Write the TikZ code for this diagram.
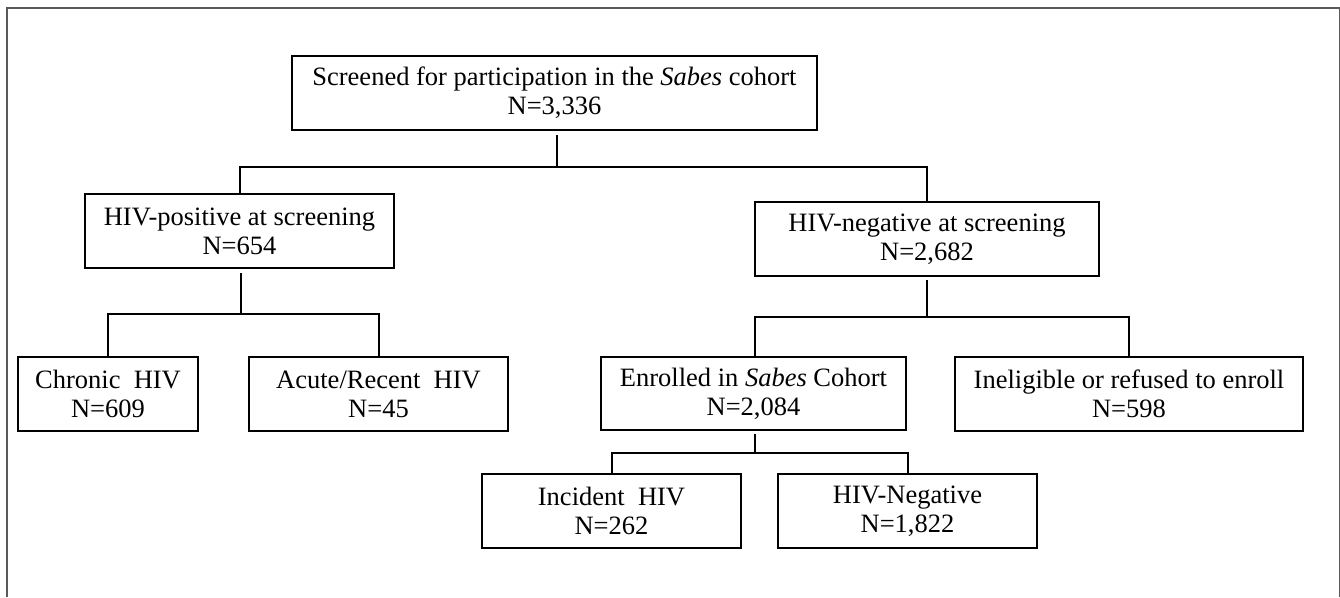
\documentclass[tikz,border=0pt]{standalone}
\usepackage{fontspec}
\setmainfont{Liberation Serif}
\begin{document}
\begin{tikzpicture}[x=1pt,y=-1pt,
  boxst/.style={draw=black,line width=2pt,inner sep=0pt,align=center,
    font=\fontsize{26.5}{29}\selectfont},
  conn/.style={draw=black,line width=2pt},
  frame/.style={draw=black!65,line width=1.4pt}]
\useasboundingbox (0,0) rectangle (1340,597);
\fill[white] (0,0) rectangle (1340,597);
\draw[frame] (7,597) -- (7,8) -- (1339.5,8) -- (1339.5,597);
% boxes (centre, width, height in px)
\node[boxst,minimum width=525pt,minimum height=74pt] (top) at (554.5,93)
  {Screened for participation in the \textit{Sabes} cohort\\N=3,336};
\node[boxst,minimum width=309pt,minimum height=74pt] (pos) at (239.5,231)
  {HIV-positive at screening\\N=654};
\node[boxst,minimum width=344pt,minimum height=74pt] (neg) at (927,239)
  {HIV-negative at screening\\N=2,682};
\node[boxst,minimum width=180pt,minimum height=74pt] (chronic) at (108,394)
  {Chronic\ \ HIV\\N=609};
\node[boxst,minimum width=259pt,minimum height=74pt] (acute) at (378.5,394)
  {Acute/Recent\ \ HIV\\N=45};
\node[boxst,minimum width=305pt,minimum height=73pt] (enrolled) at (753.5,393.5)
  {Enrolled in \textit{Sabes} Cohort\\N=2,084};
\node[boxst,minimum width=348pt,minimum height=74pt] (inelig) at (1129,394)
  {Ineligible or refused to enroll\\N=598};
\node[boxst,minimum width=259pt,minimum height=74pt] (incident) at (611.5,511)
  {Incident\ \ HIV\\N=262};
\node[boxst,minimum width=259pt,minimum height=74pt] (hivneg) at (907.5,511)
  {HIV-Negative\\N=1,822};
% connectors
\coordinate (j1) at (557,167);
\coordinate (j2) at (241,314);
\coordinate (j3) at (927,317);
\coordinate (j4) at (755,453);
\draw[conn] (j1 |- 0,135) -- (j1);
\draw[conn] (pos.north) |- (j1) -| (neg.north);
\draw[conn] (j2 |- 0,273) -- (j2);
\draw[conn] (chronic.north) |- (j2) -| (acute.north);
\draw[conn] (j3 |- 0,280) -- (j3);
\draw[conn] (j4 |- enrolled.north) |- (j3) -| (inelig.north);
\draw[conn] (j4 |- 0,434) -- (j4);
\draw[conn] (incident.north) |- (j4) -| (hivneg.north);
\end{tikzpicture}
\end{document}
